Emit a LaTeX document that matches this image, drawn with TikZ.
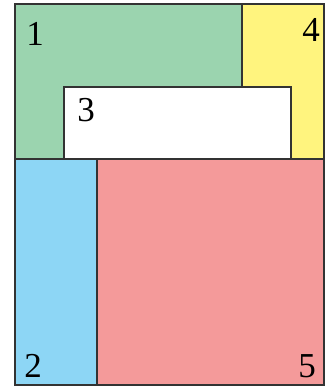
\documentclass[tikz,border=0pt]{standalone}
\usepackage{fontspec}
\setmainfont{Liberation Serif}
\definecolor{regA}{RGB}{155,212,175}
\definecolor{regB}{RGB}{141,214,245}
\definecolor{regD}{RGB}{255,244,126}
\definecolor{regE}{RGB}{244,154,154}
\tikzset{region/.style={draw=black!80, line width=1.3pt},
  num/.style={inner sep=0pt, font=\fontsize{35}{35}\selectfont}}
\begin{document}
\begin{tikzpicture}[x=1pt,y=-1pt]
\useasboundingbox (0,0) rectangle (326,387);
\filldraw[region, fill=regA] (15,4) rectangle (242,159);
\filldraw[region, fill=regD] (242,4) rectangle (324,159);
\filldraw[region, fill=white] (64,87) rectangle (291,159);
\filldraw[region, fill=regB] (15,159) rectangle (97,385);
\filldraw[region, fill=regE] (97,159) rectangle (324,385);
\node[num] (n1) at (35,34) {1};
\node[num] (n4) at (311,30) {4};
\node[num] (n3) at (86,110) {3};
\node[num] (n2) at (33,366) {2};
\node[num] (n5) at (307,366) {5};
\end{tikzpicture}
\end{document}
